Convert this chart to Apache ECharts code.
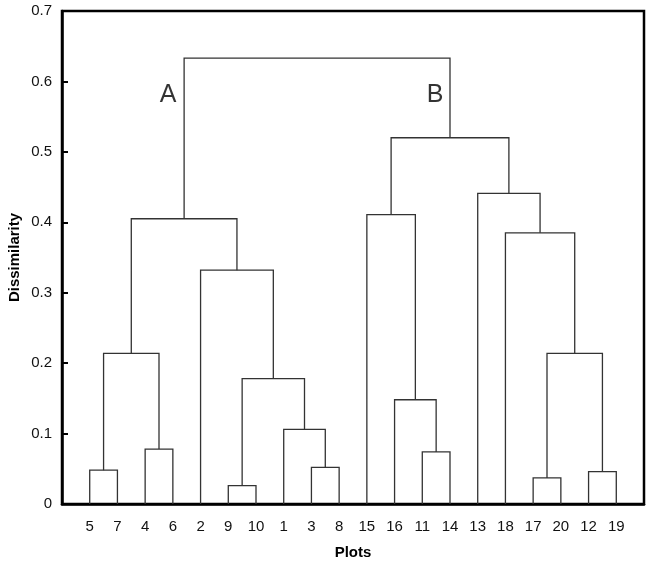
<!DOCTYPE html>
<html>
<head>
<meta charset="utf-8">
<script src="https://cdn.jsdelivr.net/npm/echarts@6/dist/echarts.min.js"></script>
<style>
  html, body { margin: 0; padding: 0; background: #fff; }
  #chart { width: 652px; height: 565px; }
</style>
</head>
<body>
<div id="chart"></div>
<script>
// leaf order along the x axis
const leaves = ['5', '7', '4', '6', '2', '9', '10', '1', '3', '8',
  '15', '16', '11', '14', '13', '18', '17', '20', '12', '19']
// merges: [child a, child b, height]; ids < 20 are leaves, 20+ are earlier merges
const merges = [
  [0, 1, 0.048],   // 20
  [2, 3, 0.078],   // 21
  [5, 6, 0.026],   // 22
  [8, 9, 0.052],   // 23
  [7, 23, 0.106],  // 24
  [22, 24, 0.178], // 25
  [4, 25, 0.332],  // 26
  [20, 21, 0.214], // 27
  [27, 26, 0.405], // 28
  [12, 13, 0.074], // 29
  [11, 29, 0.148], // 30
  [10, 30, 0.411], // 31
  [16, 17, 0.037], // 32
  [18, 19, 0.046], // 33
  [32, 33, 0.214], // 34
  [15, 34, 0.385], // 35
  [14, 35, 0.441], // 36
  [31, 36, 0.520], // 37
  [28, 37, 0.633]  // 38
]
const yTicks = [0, 0.1, 0.2, 0.3, 0.4, 0.5, 0.6, 0.7]
const groupLabels = [['A', 2.83, 0.58], ['B', 12.46, 0.58]]

// positions / heights of every node
const nodeX = leaves.map((_, i) => i)
const nodeH = leaves.map(() => 0)
const links = []
merges.forEach(([a, b, h]) => {
  links.push([nodeX[a], nodeH[a], nodeX[b], nodeH[b], h])
  nodeX.push((nodeX[a] + nodeX[b]) / 2)
  nodeH.push(h)
})

const chart = echarts.init(document.getElementById('chart'))

const option = {
  animation: false,
  grid: {
    left: 62,
    right: 8,
    top: 11,
    bottom: 61,
    outerBoundsMode: 'none',
    show: true,
    borderColor: '#000',
    borderWidth: 2.5,
  },
  xAxis: {
    type: 'value',
    min: -1,
    max: leaves.length,
    interval: 1,
    name: 'Plots',
    nameLocation: 'middle',
    nameGap: 41,
    nameMoveOverlap: false,
    nameTextStyle: { fontFamily: 'Liberation Sans', fontSize: 15, fontWeight: 'bold', color: '#000' },
    axisLine: { lineStyle: { color: '#000', width: 2.5 } },
    axisTick: { show: false },
    splitLine: { show: false },
    axisLabel: {
      margin: 15,
      fontFamily: 'Liberation Sans',
      fontSize: 15,
      color: '#111',
      formatter: (v) => leaves[v] || '',
    },
  },
  yAxis: {
    type: 'value',
    min: 0,
    max: 0.7,
    interval: 0.1,
    name: 'Dissimilarity',
    nameLocation: 'middle',
    nameGap: 40,
    nameMoveOverlap: false,
    nameTextStyle: { fontFamily: 'Liberation Sans', fontSize: 15, fontWeight: 'bold', color: '#000' },
    axisLine: { show: true, onZero: false, lineStyle: { color: '#000', width: 2.5 } },
    axisTick: { inside: true, length: 6, lineStyle: { color: '#000', width: 2 } },
    splitLine: { show: false },
    axisLabel: {
      margin: 10,
      fontFamily: 'Liberation Sans',
      fontSize: 15,
      color: '#111',
      formatter: (v) => {
        const t = yTicks.find((k) => Math.abs(k - v) < 1e-6)
        return t === 0 ? '0' : t.toFixed(1)
      },
    },
  },
  series: [
    {
      type: 'custom',
      data: links,
      renderItem: (params, api) => {
        const p1 = api.coord([api.value(0), api.value(1)])
        const p2 = api.coord([api.value(0), api.value(4)])
        const p3 = api.coord([api.value(2), api.value(4)])
        const p4 = api.coord([api.value(2), api.value(3)])
        return {
          type: 'polyline',
          shape: { points: [p1, p2, p3, p4] },
          style: { stroke: '#333', lineWidth: 1.3, fill: null },
        }
      },
      z: 1,
    },
    {
      type: 'scatter',
      symbolSize: 0,
      data: groupLabels.map((g) => ({ name: g[0], value: [g[1], g[2]] })),
      label: {
        show: true,
        formatter: (p) => p.name,
        position: 'inside',
        fontFamily: 'Liberation Sans',
        fontSize: 25,
        color: '#000',
      },
      silent: true,
    },
  ],
}

chart.setOption(option)
</script>
</body>
</html>
